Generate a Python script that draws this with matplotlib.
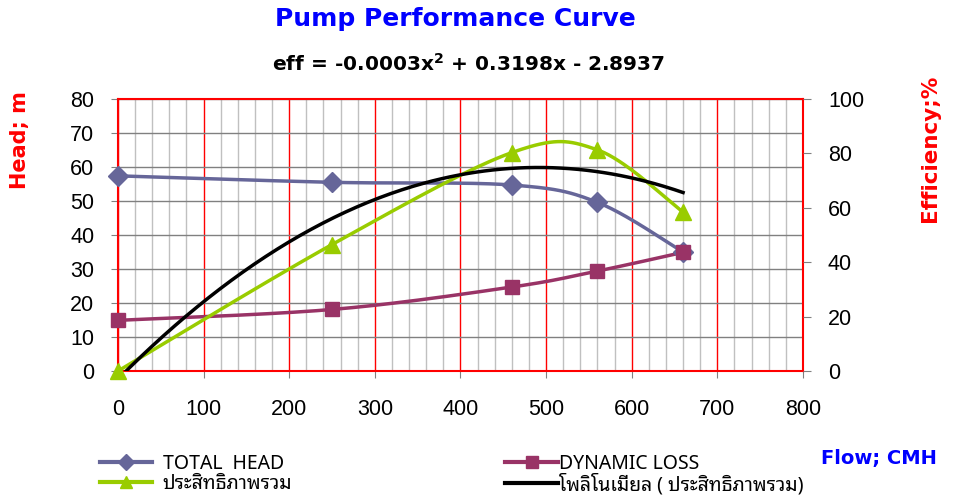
import numpy as np
import matplotlib
matplotlib.use("Agg")
import matplotlib.pyplot as plt
from matplotlib.lines import Line2D

# === データ ===
flow = [0, 250, 460, 560, 660]
total_head = [57.4, 55.5, 54.7, 49.6, 35.0]
dynamic_loss = [14.9, 18.1, 24.7, 29.4, 34.9]
efficiency = [0.0, 46.5, 80.3, 81.3, 58.4]

labels = ["TOTAL  HEAD", "DYNAMIC LOSS", "ประสิทธิภาพรวม", "โพลิโนเมียล ( ประสิทธิภาพรวม)"]
x_ticks = [0, 100, 200, 300, 400, 500, 600, 700, 800]
head_ticks = [0, 10, 20, 30, 40, 50, 60, 70, 80]
eff_ticks = [0, 20, 40, 60, 80, 100]

HEAD_C = "#666699"
LOSS_C = "#993366"
EFF_C = "#99CC00"
TICK_FONT = "Liberation Sans"
LEG_FONT = ["Noto Sans", "Noto Sans Thai Looped"]


# Excel風の平滑線（Catmull-Rom / Bezier）
def smooth(x, y, n=40):
    x = np.asarray(x, float)
    y = np.asarray(y, float)
    px = np.concatenate([[x[0]], x, [x[-1]]])
    py = np.concatenate([[y[0]], y, [y[-1]]])
    xs, ys = [x[0]], [y[0]]
    t = np.linspace(0, 1, n)[1:]
    for i in range(1, len(px) - 2):
        p0 = np.array([px[i], py[i]])
        p3 = np.array([px[i + 1], py[i + 1]])
        p1 = p0 + (np.array([px[i + 1], py[i + 1]]) - np.array([px[i - 1], py[i - 1]])) / 6
        p2 = p3 - (np.array([px[i + 2], py[i + 2]]) - np.array([px[i], py[i]])) / 6
        b = ((1 - t) ** 3)[:, None] * p0 + (3 * (1 - t) ** 2 * t)[:, None] * p1 \
            + (3 * (1 - t) * t ** 2)[:, None] * p2 + (t ** 3)[:, None] * p3
        xs.extend(b[:, 0])
        ys.extend(b[:, 1])
    return np.array(xs), np.array(ys)


fig = plt.figure(figsize=(9.57, 4.99), dpi=100)
ax = fig.add_axes([0.1233, 0.2565, 0.7157, 0.5451])
ax2 = ax.twinx()

# グリッド
ax.set_xlim(0, 800)
ax.set_ylim(0, 80)
ax.set_xticks(x_ticks)
ax.set_xticks(np.arange(0, 801, 20), minor=True)
ax.set_yticks(head_ticks)
ax.grid(which="minor", axis="x", color="#c0c0c0", lw=1.0)
ax.grid(which="major", axis="x", color="#ff0000", lw=1.0)
ax.grid(which="major", axis="y", color="#808080", lw=1.0)
ax.set_axisbelow(True)
ax.tick_params(axis="x", which="minor", length=0)
ax.tick_params(axis="x", which="major", direction="out", length=5, color="#808080",
               pad=15, labelsize=15.5)
ax.tick_params(axis="y", direction="out", length=5, color="#808080", pad=12, labelsize=15.5)
for lab in ax.get_xticklabels() + ax.get_yticklabels():
    lab.set_fontfamily(TICK_FONT)
for sp in ax.spines.values():
    sp.set_color("#ff0000")
    sp.set_linewidth(1.5)

# 左軸：揚程・損失
hx, hy = smooth(flow, total_head)
ax.plot(hx, hy, color=HEAD_C, lw=2.5, zorder=3)
ax.plot(flow, total_head, "D", color=HEAD_C, ms=10, zorder=4, clip_on=False)
lx, ly = smooth(flow, dynamic_loss)
ax.plot(lx, ly, color=LOSS_C, lw=2.5, zorder=3)
ax.plot(flow, dynamic_loss, "s", color=LOSS_C, ms=9.5, zorder=4, clip_on=False)

# 右軸：効率
ax2.set_ylim(0, 100)
ax2.set_yticks(eff_ticks)
ax2.tick_params(axis="y", direction="out", length=6, color="#808080", pad=12, labelsize=15.5)
for lab in ax2.get_yticklabels():
    lab.set_fontfamily(TICK_FONT)
for sp in ax2.spines.values():
    sp.set_visible(False)
ex, ey = smooth(flow, efficiency)
ax2.plot(ex, ey, color=EFF_C, lw=2.5, zorder=3)
ax2.plot(flow, efficiency, "^", color=EFF_C, ms=11, zorder=4, clip_on=False)

# 多項式近似（2次）
coef = np.polyfit(flow, efficiency, 2)
px = np.linspace(0, 660, 200)
ax2.plot(px, np.polyval(coef, px), color="black", lw=2.5, zorder=5)

# テキスト
fig.text(0.476, 0.962, "Pump Performance Curve", color="#0000ff", fontsize=18,
         fontweight="bold", ha="center", va="center")
fig.text(0.49, 0.872, r"eff = -0.0003x$^{\mathbf{2}}$ + 0.3198x - 2.8937", color="black",
         fontsize=14.5, fontweight="bold", ha="center", va="center")
fig.text(0.021, 0.719, "Head; m", color="#ff0000", fontsize=15, fontweight="bold",
         rotation=90, ha="center", va="center")
fig.text(0.972, 0.703, "Efficiency;%", color="#ff0000", fontsize=15.5, fontweight="bold",
         rotation=90, ha="center", va="center")
fig.text(0.918, 0.081, "Flow; CMH", color="#0000ff", fontsize=14, fontweight="bold",
         ha="center", va="center")

# 凡例（左列・右列を別々に配置）
left_h = [
    Line2D([], [], color=HEAD_C, lw=3, marker="D", ms=8),
    Line2D([], [], color=EFF_C, lw=3, marker="^", ms=8),
]
right_h = [
    Line2D([], [], color=LOSS_C, lw=3, marker="s", ms=8),
    Line2D([], [], color="black", lw=3),
]
leg_kw = dict(loc="upper left", frameon=False, prop={"family": LEG_FONT, "size": 14},
              handlelength=2.7, labelspacing=0.0, borderaxespad=0, borderpad=0)
fig.legend(left_h, [labels[0], labels[2]], bbox_to_anchor=(0.104, 0.091),
           handletextpad=0.55, **leg_kw)
fig.legend(right_h, [labels[1], labels[3]], bbox_to_anchor=(0.528, 0.091),
           handletextpad=0.08, **leg_kw)

fig.savefig("out.png", dpi=100)
